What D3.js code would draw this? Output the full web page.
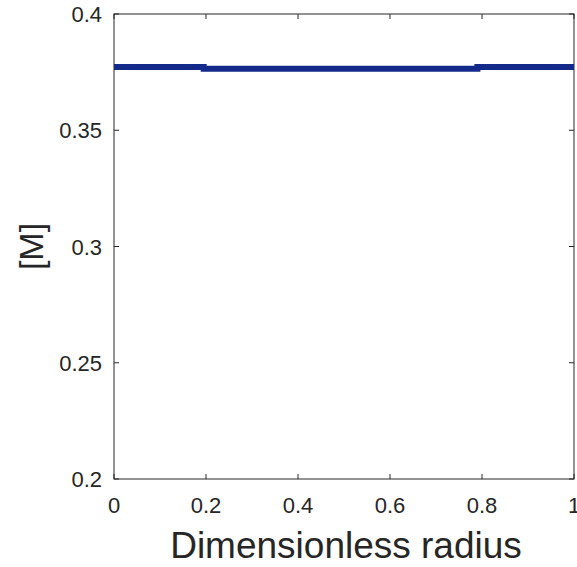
<!DOCTYPE html>
<head>
    <meta charset="utf-8">
    <script src="https://d3js.org/d3.v7.min.js"></script>
    <style>
        body { margin: 0; background: #fff; }
        text { font-family: "Liberation Sans", Arial, sans-serif; fill: #262626; }
    </style>
</head>
<body>
    <script>
        // step profile
        const radius = [0, 0.195, 0.195, 0.79, 0.79, 1];
        const conc = [0.3772, 0.3772, 0.3764, 0.3764, 0.3772, 0.3772];
        const xTicks = [0, 0.2, 0.4, 0.6, 0.8, 1];
        const yTicks = [0.2, 0.25, 0.3, 0.35, 0.4];

        const width = 577, height = 567;
        const m = { left: 114, right: 3, top: 14, bottom: 88 };

        const svg = d3.select('body').append('svg')
            .attr('width', width)
            .attr('height', height);

        const x = d3.scaleLinear().domain([0, 1]).range([m.left, width - m.right]);
        const y = d3.scaleLinear().domain([0.2, 0.4]).range([height - m.bottom, m.top]);

        const tickLen = 5;
        const axisCol = '#262626';

        // box
        svg.append('rect')
            .attr('x', x(0)).attr('y', y(0.4))
            .attr('width', x(1) - x(0)).attr('height', y(0.2) - y(0.4))
            .attr('fill', 'none').attr('stroke', axisCol).attr('stroke-width', 1);

        // bottom + top ticks
        svg.append('g').selectAll('line').data(xTicks).join('line')
            .attr('x1', d => x(d)).attr('x2', d => x(d))
            .attr('y1', y(0.2)).attr('y2', y(0.2) - tickLen)
            .attr('stroke', axisCol);
        svg.append('g').selectAll('line').data(xTicks).join('line')
            .attr('x1', d => x(d)).attr('x2', d => x(d))
            .attr('y1', y(0.4)).attr('y2', y(0.4) + tickLen)
            .attr('stroke', axisCol);
        // left + right ticks
        svg.append('g').selectAll('line').data(yTicks).join('line')
            .attr('x1', x(0)).attr('x2', x(0) + tickLen)
            .attr('y1', d => y(d)).attr('y2', d => y(d))
            .attr('stroke', axisCol);
        svg.append('g').selectAll('line').data(yTicks).join('line')
            .attr('x1', x(1)).attr('x2', x(1) - tickLen)
            .attr('y1', d => y(d)).attr('y2', d => y(d))
            .attr('stroke', axisCol);

        // tick labels
        svg.append('g').selectAll('text').data(xTicks).join('text')
            .attr('x', d => x(d)).attr('y', y(0.2) + 34)
            .attr('text-anchor', 'middle')
            .attr('font-size', 22)
            .text(d => d3.format('~g')(d));
        svg.append('g').selectAll('text').data(yTicks).join('text')
            .attr('x', x(0) - 12).attr('y', d => y(d) + 8)
            .attr('text-anchor', 'end')
            .attr('font-size', 22)
            .text(d => d3.format('~g')(d));

        // axis titles
        svg.append('text')
            .attr('x', (x(0) + x(1)) / 2 + 2).attr('y', 558)
            .attr('text-anchor', 'middle')
            .attr('font-size', 37)
            .text('Dimensionless radius');
        svg.append('text')
            .attr('transform', `translate(43,${(y(0.2) + y(0.4)) / 2}) rotate(-90)`)
            .attr('text-anchor', 'middle')
            .attr('font-size', 34)
            .text('[M]');

        // the line
        const line = d3.line().x(d => x(d[0])).y(d => y(d[1]));
        svg.append('path')
            .datum(radius.map((r, i) => [r, conc[i]]))
            .attr('d', line)
            .attr('fill', 'none')
            .attr('stroke', '#142a8a')
            .attr('stroke-width', 6);
    </script>
</body>
